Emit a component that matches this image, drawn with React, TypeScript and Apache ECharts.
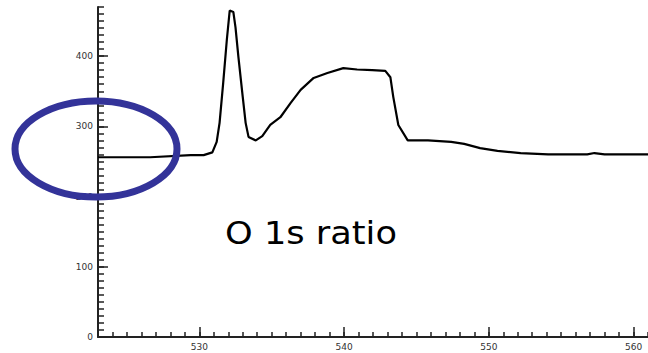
import React, { useEffect, useRef } from "react";
import * as echarts from "echarts";

const energy = [523, 526.6, 529.4, 530.3, 530.9, 531.2, 531.4, 531.65, 531.9, 532.1, 532.35, 532.5, 532.7, 533.0, 533.2, 533.4, 533.9, 534.35, 534.9, 535.6, 536.3, 537.0, 537.9, 538.85, 539.95, 540.9, 541.95, 542.85, 543.2, 543.4, 543.75, 544.4, 545.8, 547.4, 548.3, 549.4, 550.6, 552.2, 554.1, 556.8, 557.3, 558.0, 561.1];
const intensity = [256, 256, 259, 259, 263, 278, 305, 362, 423, 465, 463, 441, 399, 342, 305, 285, 280, 286, 302, 313, 333, 352, 369, 376, 383, 381, 380, 379, 370, 342, 302, 280, 280, 278, 275, 269, 265, 262, 260, 260, 262, 260, 260];
const xTickLabels = [530, 540, 550, 560];
const yTickLabels = [0, 100, 200, 300, 400];
const annotation = "O 1s ratio";

const X_MIN = 523;
const X_MAX = 561;
const Y_MIN = 0;
const Y_MAX = 470;

export default function App() {
  const ref = useRef<HTMLDivElement>(null);
  useEffect(() => {
    if (!ref.current) return;
    const chart = echarts.init(ref.current, undefined, { renderer: "svg" });
    const xMinor: number[] = [];
    for (let v = X_MIN; v <= X_MAX; v++) xMinor.push(v);
    const yMinor: number[] = [];
    for (let v = Y_MIN; v <= Y_MAX; v += 10) yMinor.push(v);
    const labelStyle = { fontSize: 9, color: "#333", fontFamily: "DejaVu Sans" };
    const axisLine = { show: true, lineStyle: { color: "#222", width: 2 } };
    chart.setOption({
      animation: false,
      backgroundColor: "#fff",
      grid: { left: 98, right: 0, top: 7, bottom: 16 },
      xAxis: [
        {
          type: "value",
          min: X_MIN,
          max: X_MAX,
          axisLine,
          splitLine: { show: false },
          axisTick: { show: true, inside: true, length: 10, customValues: xTickLabels, lineStyle: { color: "#222", width: 1.5 } },
          axisLabel: { show: true, margin: 5, customValues: xTickLabels, ...labelStyle },
        },
        {
          type: "value",
          min: X_MIN,
          max: X_MAX,
          position: "bottom",
          axisLine: { show: false },
          splitLine: { show: false },
          axisTick: { show: true, inside: true, length: 5, customValues: xMinor, lineStyle: { color: "#222", width: 1.5 } },
          axisLabel: { show: false },
        },
      ],
      yAxis: [
        {
          type: "value",
          min: Y_MIN,
          max: Y_MAX,
          axisLine,
          splitLine: { show: false },
          axisTick: { show: true, inside: true, length: 10, customValues: yTickLabels, lineStyle: { color: "#222", width: 1.5 } },
          axisLabel: { show: true, margin: 5, customValues: yTickLabels, ...labelStyle },
        },
        {
          type: "value",
          min: Y_MIN,
          max: Y_MAX,
          position: "left",
          axisLine: { show: false },
          splitLine: { show: false },
          axisTick: { show: true, inside: true, length: 6, customValues: yMinor, lineStyle: { color: "#222", width: 1.5 } },
          axisLabel: { show: false },
        },
      ],
      series: [
        {
          type: "line",
          data: energy.map((e, i) => [e, intensity[i]]),
          showSymbol: false,
          lineStyle: { color: "#000", width: 2.2 },
          silent: true,
        },
      ],
      graphic: [
        {
          type: "ellipse",
          shape: { cx: 96, cy: 149, rx: 81, ry: 48 },
          style: { fill: "none", stroke: "#333399", lineWidth: 7 },
          z: 100,
        },
        {
          type: "text",
          x: 225,
          y: 217,
          scaleX: 1.1,
          style: { text: annotation, fontSize: 32, fontFamily: "DejaVu Sans", fill: "#000" },
          z: 100,
        },
      ],
    });
    return () => chart.dispose();
  }, []);
  return (
    <div
      ref={ref}
      style={{ position: "fixed", left: 0, top: 0, width: 648, height: 353, background: "#fff" }}
    />
  );
}
